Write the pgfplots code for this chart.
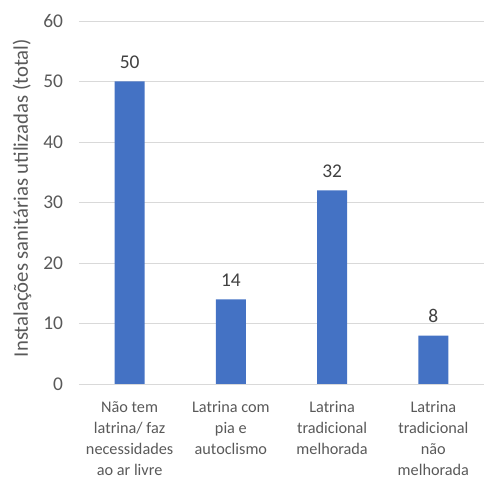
\documentclass[border=0pt]{standalone}
\usepackage{pgfplots}
\pgfplotsset{compat=1.18}
\usepackage{fontspec}
\setmainfont{Carlito}
\definecolor{barblue}{HTML}{4472C4}
\definecolor{txtgray}{HTML}{595959}
\definecolor{valgray}{HTML}{404040}
\definecolor{gridgray}{HTML}{D9D9D9}
\begin{document}
\begin{tikzpicture}
\begin{axis}[
  name=ax,
  scale only axis,
  width=405bp, height=363bp,
  xmin=-0.5, xmax=3.5,
  ymin=0, ymax=60,
  ytick={0,10,...,60},
  xtick=data,
  xticklabels={{Não tem\\latrina/ faz\\necessidades\\ao ar livre},{Latrina com\\pia e\\autoclismo},{Latrina\\tradicional\\melhorada},{Latrina\\tradicional\\não\\melhorada}},
  x tick label style={align=center, font=\fontsize{16.3}{21}\selectfont, text=txtgray, yshift=-14bp},
  y tick label style={font=\fontsize{19.5}{22}\selectfont, text=txtgray, xshift=-12.5bp},
  /pgf/number format/assume math mode=true,
  ylabel={Instalações sanitárias utilizadas (total)},
  every axis y label/.style={at={(axis description cs:-0.1407,0.512)}, rotate=90, anchor=center, font=\fontsize{20.8}{22}\selectfont, text=txtgray},
  axis lines*=left,
  y axis line style={draw=none},
  x axis line style={draw=gridgray, line width=0.8pt, -},
  ymajorgrids,
  grid style={draw=gridgray, line width=0.8pt},
  major tick length=0pt,
  ybar,
  bar width=30bp,
  nodes near coords,
  every node near coord/.append style={font=\fontsize{19.5}{22}\selectfont, text=valgray, yshift=9bp},
  clip=false,
]
\addplot[fill=barblue, draw=none] coordinates {(0,50) (1,14) (2,32) (3,8)};
\end{axis}
\pgfresetboundingbox
\path[use as bounding box] ([shift={(-79bp,-95bp)}]ax.south west) rectangle ([shift={(0bp,21bp)}]ax.north east);
\end{tikzpicture}
\end{document}
